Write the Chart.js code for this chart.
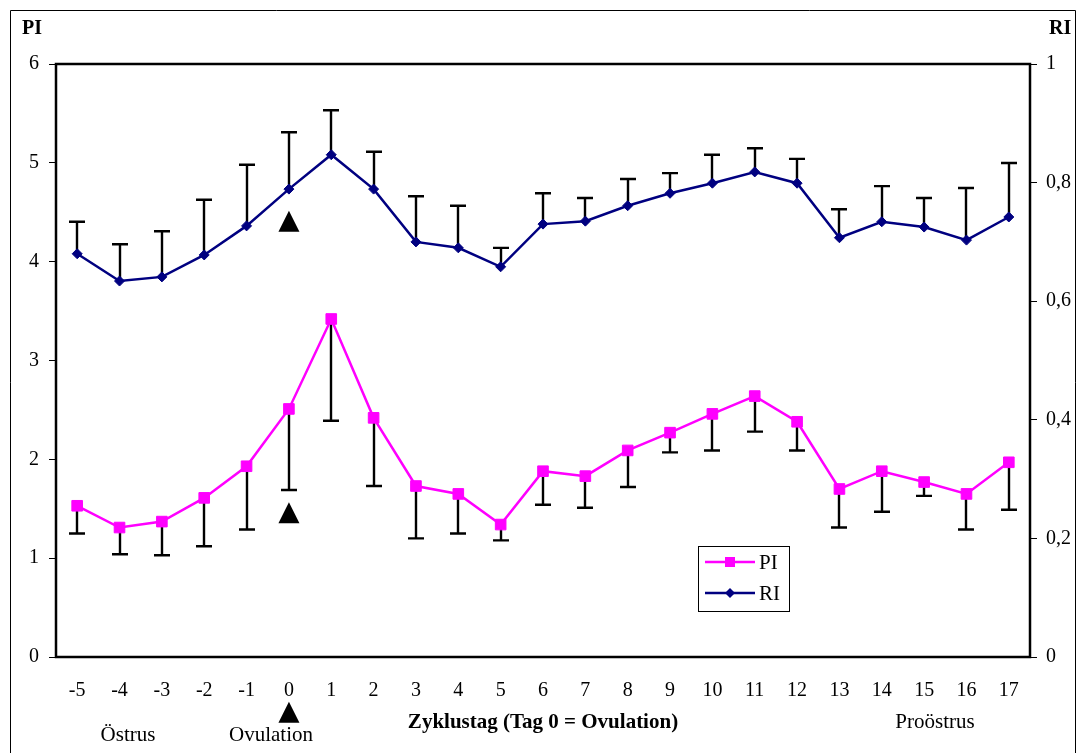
<!DOCTYPE html>
<html>
<head>
<meta charset="utf-8">
<title>PI und RI im Zyklusverlauf</title>
<script src="https://cdn.jsdelivr.net/npm/chart.js@4.4.1/dist/chart.umd.min.js"></script>
<style>
  html, body { margin: 0; padding: 0; background: #fff; }
  canvas { display: block; }
</style>
</head>
<body>
<canvas id="chart" width="1077" height="753"></canvas>
<script>
// Zyklustage (Tag 0 = Ovulation)
const days = ['-5','-4','-3','-2','-1','0','1','2','3','4','5','6','7','8','9','10','11','12','13','14','15','16','17'];

// Pulsatilitätsindex: Mittelwert und unteres Ende des Fehlerbalkens
const piValues = [1.53, 1.31, 1.37, 1.61, 1.93, 2.51, 3.42, 2.42, 1.73, 1.65, 1.34, 1.88, 1.83, 2.09, 2.27, 2.46, 2.64, 2.38, 1.70, 1.88, 1.77, 1.65, 1.97];
const piLower  = [1.25, 1.04, 1.03, 1.12, 1.29, 1.69, 2.39, 1.73, 1.20, 1.25, 1.18, 1.54, 1.51, 1.72, 2.07, 2.09, 2.28, 2.09, 1.31, 1.47, 1.63, 1.29, 1.49];

// Resistenzindex: Mittelwert und oberes Ende des Fehlerbalkens
const riValues = [0.680, 0.634, 0.641, 0.678, 0.727, 0.789, 0.847, 0.789, 0.700, 0.690, 0.658, 0.730, 0.735, 0.761, 0.782, 0.799, 0.818, 0.799, 0.707, 0.734, 0.725, 0.703, 0.742];
const riUpper  = [0.734, 0.696, 0.718, 0.771, 0.830, 0.885, 0.922, 0.852, 0.777, 0.761, 0.690, 0.782, 0.774, 0.806, 0.816, 0.847, 0.858, 0.840, 0.755, 0.794, 0.774, 0.791, 0.833];

// Ovulationsmarken (Dreiecke) an Tag 0, auf der PI-Skala
const ovulationDay = '0';
const ovulationMarks = [4.41, 1.46, -0.56];

// Achsenbeschriftungen
const piTickLabels = ['0', '1', '2', '3', '4', '5', '6'];
const riTickLabels = ['0', '0,2', '0,4', '0,6', '0,8', '1'];

const SERIF = '"Liberation Serif", "Times New Roman", serif';
const PI_COLOR = '#FF00FF';
const RI_COLOR = '#000080';

// Fehlerbalken, Rahmen, Dreiecke und Beschriftungen
const decorations = {
  id: 'decorations',
  beforeDatasetsDraw(chart) {
    const { ctx, scales, chartArea } = chart;
    const xs = scales.x;
    ctx.save();
    ctx.strokeStyle = '#000';
    ctx.lineWidth = 2.4;
    const bars = (vals, ends, ys) => {
      vals.forEach((v, i) => {
        const px = Math.round(xs.getPixelForValue(i));
        const y0 = ys.getPixelForValue(v);
        const y1 = ys.getPixelForValue(ends[i]);
        ctx.beginPath();
        ctx.moveTo(px, y0);
        ctx.lineTo(px, y1);
        ctx.moveTo(px - 8, y1);
        ctx.lineTo(px + 8, y1);
        ctx.stroke();
      });
    };
    bars(piValues, piLower, scales.yPI);
    bars(riValues, riUpper, scales.yRI);

    // Rahmen der Zeichenfläche
    ctx.lineWidth = 2.5;
    ctx.strokeRect(chartArea.left, chartArea.top, chartArea.right - chartArea.left, chartArea.bottom - chartArea.top);
    ctx.restore();
  },
  afterDatasetsDraw(chart) {
    const { ctx, scales } = chart;
    const px = scales.x.getPixelForValue(days.indexOf(ovulationDay));
    ctx.save();
    ctx.fillStyle = '#000';
    ovulationMarks.forEach(v => {
      const cy = scales.yPI.getPixelForValue(v);
      ctx.beginPath();
      ctx.moveTo(px, cy - 10.5);
      ctx.lineTo(px + 10.5, cy + 10.5);
      ctx.lineTo(px - 10.5, cy + 10.5);
      ctx.closePath();
      ctx.fill();
    });
    ctx.restore();
  },
  afterDraw(chart) {
    const { ctx } = chart;
    ctx.save();
    // äußerer Rahmen
    ctx.strokeStyle = '#000';
    ctx.lineWidth = 1;
    ctx.beginPath();
    ctx.moveTo(10.5, 760);
    ctx.lineTo(10.5, 10.5);
    ctx.lineTo(1075.5, 10.5);
    ctx.lineTo(1075.5, 760);
    ctx.stroke();

    ctx.fillStyle = '#000';
    ctx.textBaseline = 'alphabetic';
    ctx.font = 'bold 20px ' + SERIF;
    ctx.textAlign = 'left';
    ctx.fillText('PI', 22, 34);
    ctx.fillText('RI', 1049, 34);

    ctx.font = 'bold 21px ' + SERIF;
    ctx.textAlign = 'center';
    ctx.textBaseline = 'middle';
    ctx.fillText('Zyklustag (Tag 0 = Ovulation)', (chart.chartArea.left + chart.chartArea.right) / 2, 723);

    ctx.font = '21px ' + SERIF;
    ctx.fillText('Östrus', 128, 735);
    ctx.fillText('Ovulation', 271, 735);
    ctx.fillText('Proöstrus', 935, 722);

    // Legende
    const lx = 698, ly = 546, lw = 91, lh = 65;
    ctx.fillStyle = '#fff';
    ctx.fillRect(lx, ly, lw, lh);
    ctx.strokeStyle = '#000';
    ctx.lineWidth = 1;
    ctx.strokeRect(lx + 0.5, ly + 0.5, lw, lh);

    const items = [
      { label: 'PI', color: PI_COLOR, y: 562, shape: 'square', lw: 2.5 },
      { label: 'RI', color: RI_COLOR, y: 593, shape: 'diamond', lw: 2.5 }
    ];
    items.forEach(it => {
      ctx.strokeStyle = it.color;
      ctx.fillStyle = it.color;
      ctx.lineWidth = it.lw;
      ctx.beginPath();
      ctx.moveTo(705, it.y);
      ctx.lineTo(755, it.y);
      ctx.stroke();
      ctx.beginPath();
      if (it.shape === 'square') {
        ctx.rect(725, it.y - 5, 10, 10);
      } else {
        ctx.moveTo(730, it.y - 5);
        ctx.lineTo(735, it.y);
        ctx.lineTo(730, it.y + 5);
        ctx.lineTo(725, it.y);
        ctx.closePath();
      }
      ctx.fill();
      ctx.fillStyle = '#000';
      ctx.font = '21px ' + SERIF;
      ctx.textAlign = 'left';
      ctx.textBaseline = 'middle';
      ctx.fillText(it.label, 759, it.y + 1);
    });
    ctx.restore();
  }
};

new Chart(document.getElementById('chart'), {
  type: 'line',
  data: {
    labels: days,
    datasets: [
      {
        label: 'RI',
        data: riValues,
        yAxisID: 'yRI',
        borderColor: RI_COLOR,
        backgroundColor: RI_COLOR,
        borderWidth: 2.5,
        pointStyle: 'rectRot',
        pointRadius: 5,
        pointBorderWidth: 1,
        tension: 0
      },
      {
        label: 'PI',
        data: piValues,
        yAxisID: 'yPI',
        borderColor: PI_COLOR,
        backgroundColor: PI_COLOR,
        borderWidth: 2.5,
        pointStyle: 'rect',
        pointRadius: 7.5,
        pointBorderWidth: 1,
        tension: 0
      }
    ]
  },
  options: {
    responsive: false,
    animation: false,
    devicePixelRatio: 1,
    layout: { padding: { top: 64, left: 0, right: 0, bottom: 0 } },
    plugins: {
      legend: { display: false },
      title: { display: false },
      tooltip: { enabled: false }
    },
    scales: {
      x: {
        type: 'category',
        offset: true,
        grid: { display: false },
        border: { display: false },
        ticks: {
          color: '#000',
          font: { family: SERIF, size: 20 },
          padding: 14,
          maxRotation: 0,
          autoSkip: false
        },
        afterFit(scale) { scale.height = 96; }
      },
      yPI: {
        position: 'left',
        min: 0,
        max: 6,
        ticks: {
          stepSize: 1,
          color: '#000',
          font: { family: SERIF, size: 20 },
          padding: 10,
          callback: (v, i) => piTickLabels[i]
        },
        grid: { drawOnChartArea: false, color: '#000', tickLength: 7, lineWidth: 1 },
        border: { display: false },
        afterFit(scale) { scale.width = 56; }
      },
      yRI: {
        position: 'right',
        min: 0,
        max: 1,
        ticks: {
          stepSize: 0.2,
          color: '#000',
          font: { family: SERIF, size: 20 },
          padding: 9,
          callback: (v, i) => riTickLabels[i]
        },
        grid: { drawOnChartArea: false, color: '#000', tickLength: 7, lineWidth: 1 },
        border: { display: false },
        afterFit(scale) { scale.width = 47; }
      }
    }
  },
  plugins: [decorations]
});
</script>
</body>
</html>
